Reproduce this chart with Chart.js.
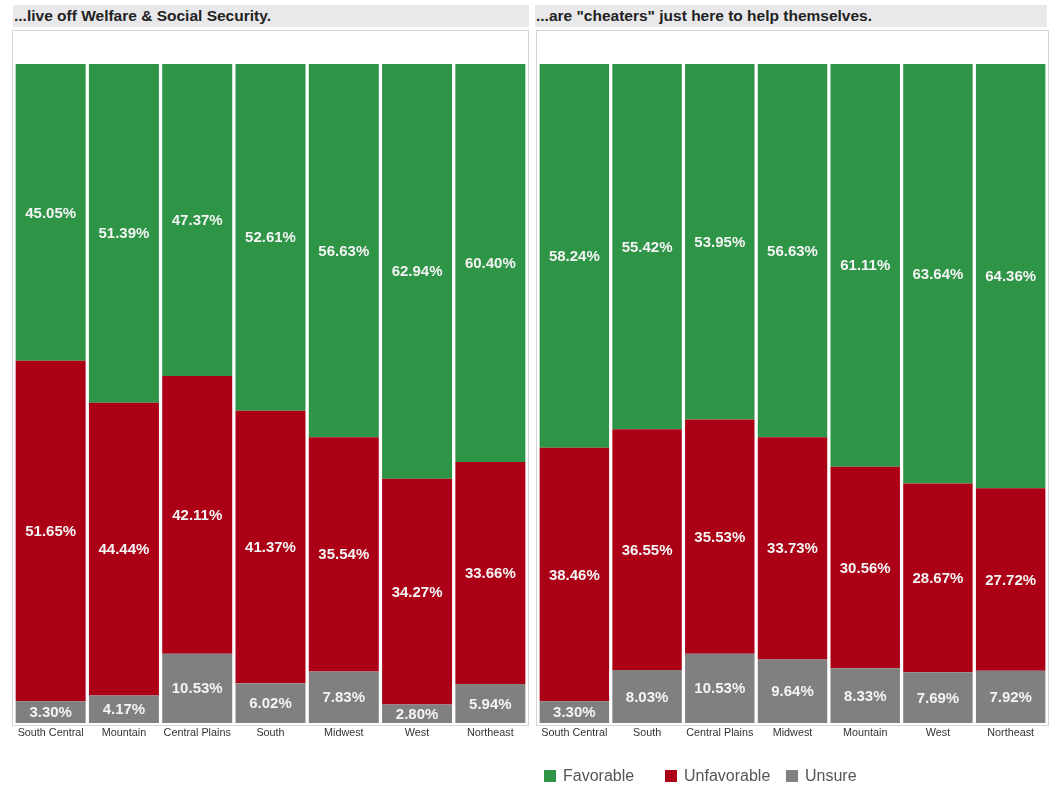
<!DOCTYPE html>
<html lang="en">
<head>
  <meta charset="UTF-8">
  <title>Regional opinion</title>
  <script src="https://cdn.jsdelivr.net/npm/chart.js"></script>
  <style>
    body { margin: 0; background: #fff; font-family: "Liberation Sans", Arial, sans-serif; }
    #page { position: relative; width: 1055px; height: 786px; }
    .title { position: absolute; top: 5px; height: 22px; line-height: 22px; background: #e9e9ec;
             font-weight: bold; font-size: 15.5px; color: #222; padding-left: 1px; box-sizing: border-box; }
    .wrap { position: absolute; top: 0; height: 760px; }
    #legend { position: absolute; left: 544px; top: 767px; font-size: 16px; color: #555; }
    .item { display: inline-block; width: 121px; white-space: nowrap; }
    .box { display: inline-block; width: 12px; height: 12px; margin-right: 7px; vertical-align: -1px; }
  </style>
</head>
<body>
<div id="page">
  <div class="title" style="left:13px;width:516px;">...live off Welfare &amp; Social Security.</div>
  <div class="title" style="left:535px;width:512px;">...are "cheaters" just here to help themselves.</div>
  <div class="wrap" style="left:0;width:535px;"><canvas id="left"></canvas></div>
  <div class="wrap" style="left:523px;width:532px;"><canvas id="right"></canvas></div>
  <div id="legend"></div>
</div>

<script>
  // left panel: ...live off Welfare & Social Security
  const leftRegions = ['South Central', 'Mountain', 'Central Plains', 'South', 'Midwest', 'West', 'Northeast'];
  const leftFavorable = [45.05, 51.39, 47.37, 52.61, 56.63, 62.94, 60.40];
  const leftUnfavorable = [51.65, 44.44, 42.11, 41.37, 35.54, 34.27, 33.66];
  const leftUnsure = [3.30, 4.17, 10.53, 6.02, 7.83, 2.80, 5.94];

  // right panel: ...are "cheaters" just here to help themselves
  const rightRegions = ['South Central', 'South', 'Central Plains', 'Midwest', 'Mountain', 'West', 'Northeast'];
  const rightFavorable = [58.24, 55.42, 53.95, 56.63, 61.11, 63.64, 64.36];
  const rightUnfavorable = [38.46, 36.55, 35.53, 33.73, 30.56, 28.67, 27.72];
  const rightUnsure = [3.30, 8.03, 10.53, 9.64, 8.33, 7.69, 7.92];

  const seriesNames = ['Favorable', 'Unfavorable', 'Unsure'];
  const seriesColors = ['#2e9446', '#ab0016', '#808080'];

  const FONT = '"Liberation Sans", Arial, sans-serif';

  const frame = {
    id: 'frame',
    beforeDraw(chart) {
      const a = chart.chartArea;
      const c = chart.ctx;
      c.save();
      c.strokeStyle = '#d6d6d6';
      c.lineWidth = 1;
      c.strokeRect(a.left - 1.5, a.top - 0.5, a.right - a.left + 3, a.bottom - a.top + 3);
      c.restore();
    }
  };

  const valueLabels = {
    id: 'valueLabels',
    afterDatasetsDraw(chart) {
      const c = chart.ctx;
      c.save();
      c.fillStyle = '#f4f4f4';
      c.font = 'bold 15px ' + FONT;
      c.textAlign = 'center';
      c.textBaseline = 'middle';
      chart.data.datasets.forEach((ds, i) => {
        chart.getDatasetMeta(i).data.forEach((bar, j) => {
          const y = (bar.y + bar.base) / 2;
          c.fillText(ds.data[j].toFixed(2) + '%', bar.x, y + 1);
        });
      });
      c.restore();
    }
  };

  function makeChart(id, labels, fav, unfav, unsure, padLeft) {
    return new Chart(document.getElementById(id), {
      type: 'bar',
      data: {
        labels: labels,
        datasets: [
          { label: seriesNames[2], data: unsure, backgroundColor: seriesColors[2] },
          { label: seriesNames[1], data: unfav, backgroundColor: seriesColors[1] },
          { label: seriesNames[0], data: fav, backgroundColor: seriesColors[0] }
        ]
      },
      options: {
        responsive: true,
        maintainAspectRatio: false,
        animation: false,
        layout: { padding: { left: padLeft, right: 8, top: 31, bottom: 16 } },
        datasets: { bar: { barPercentage: 0.955, categoryPercentage: 1, borderWidth: 0 } },
        plugins: { legend: { display: false }, tooltip: { enabled: false } },
        scales: {
          x: {
            stacked: true,
            grid: { display: false, drawTicks: false },
            border: { display: false },
            ticks: { color: '#333', font: { family: FONT, size: 10.8 }, padding: 4, maxRotation: 0, autoSkip: false }
          },
          y: { stacked: true, display: false, min: 0, max: 105 }
        }
      },
      plugins: [frame, valueLabels]
    });
  }

  makeChart('left', leftRegions, leftFavorable, leftUnfavorable, leftUnsure, 14);
  makeChart('right', rightRegions, rightFavorable, rightUnfavorable, rightUnsure, 15);

  // legend built from series arrays
  const legend = document.getElementById('legend');
  seriesNames.forEach((name, i) => {
    const item = document.createElement('span');
    item.className = 'item';
    item.innerHTML = '<span class="box" style="background:' + seriesColors[i] + '"></span>' + name;
    legend.appendChild(item);
  });
</script>
</body>
</html>
